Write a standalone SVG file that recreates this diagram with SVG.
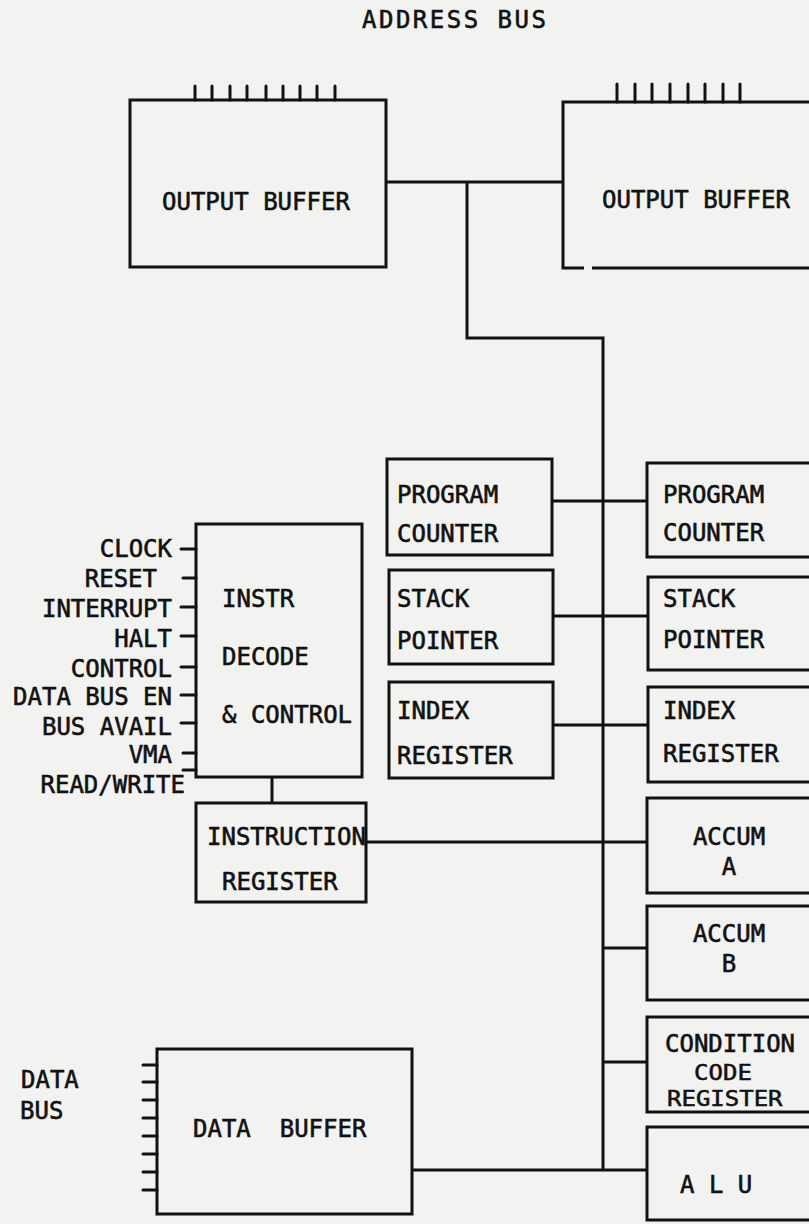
<svg xmlns="http://www.w3.org/2000/svg" width="809" height="1224" viewBox="0 0 809 1224">
<style>
.bx{fill:none;stroke:#111;stroke-width:3;stroke-linejoin:miter}
.ln{fill:none;stroke:#111;stroke-width:3}
.pin{stroke:#111;stroke-width:3;stroke-linecap:round}
text{font-family:"DejaVu Sans Mono","Liberation Mono",monospace;font-size:24px;fill:#111;stroke:#111;stroke-width:0.6;white-space:pre}
.e{text-anchor:end}
.m{text-anchor:middle}
</style>
<rect width="809" height="1224" fill="#f2f2f0"/>
<text id="title" x="362" y="28" font-size="26" letter-spacing="2.5">ADDRESS BUS</text>

<g id="connectors">
<path class="ln" d="M386,182 H563"/>
<path class="ln" d="M467,182 V338 H603 V1170"/>
<path class="ln" d="M552,501 H647"/>
<path class="ln" d="M553,616 H648"/>
<path class="ln" d="M553,725 H648"/>
<path class="ln" d="M366,842 H647"/>
<path class="ln" d="M603,948 H647"/>
<path class="ln" d="M603,1062 H647"/>
<path class="ln" d="M412,1170 H647"/>
<path class="ln" d="M272,777 V803"/>
</g>

<g id="output-buffer-left">
<rect class="bx" x="130" y="100" width="256" height="167"/>
<g class="pin"><path d="M195,86V100M212,86V100M230,86V100M247,86V100M266,86V100M283,86V100M300,86V100M317,86V100M335,86V100"/></g>
<text x="162" y="210">OUTPUT BUFFER</text>
</g>

<g id="output-buffer-right">
<path class="bx" d="M812,102 H563 V268 H584 M592,268 H812"/>
<g class="pin"><path d="M617,84V102M635,84V102M652,84V102M670,84V102M688,84V102M705,84V102M723,84V102M740,84V102"/></g>
<text x="602" y="208">OUTPUT BUFFER</text>
</g>

<g id="pc-left">
<rect class="bx" x="387" y="459" width="165" height="96"/>
<text x="397" y="503">PROGRAM</text>
<text x="397" y="542">COUNTER</text>
</g>
<g id="sp-left">
<rect class="bx" x="389" y="570" width="164" height="94"/>
<text x="397" y="607">STACK</text>
<text x="397" y="649">POINTER</text>
</g>
<g id="ix-left">
<rect class="bx" x="389" y="682" width="164" height="96"/>
<text x="397" y="719">INDEX</text>
<text x="397" y="764">REGISTER</text>
</g>

<g id="pc-right">
<path class="bx" d="M812,463 H647 V557 H812"/>
<text x="663" y="503">PROGRAM</text>
<text x="663" y="541">COUNTER</text>
</g>
<g id="sp-right">
<path class="bx" d="M812,577 H648 V670 H812"/>
<text x="663" y="607">STACK</text>
<text x="663" y="648">POINTER</text>
</g>
<g id="ix-right">
<path class="bx" d="M812,687 H648 V782 H812"/>
<text x="663" y="719">INDEX</text>
<text x="663" y="762">REGISTER</text>
</g>

<g id="decode">
<rect class="bx" x="196" y="524" width="166" height="253"/>
<g class="pin"><path d="M181,549H196M183,578H196M181,607H196M181,636H196M181,667H196M181,695H196M181,723H196M183,753H196M183,770H196"/></g>
<text x="222" y="607">INSTR</text>
<text x="222" y="665">DECODE</text>
<text x="222" y="723">&amp; CONTROL</text>
<text class="e" x="172" y="557">CLOCK</text>
<text class="e" x="157" y="587">RESET</text>
<text class="e" x="172" y="617">INTERRUPT</text>
<text class="e" x="172" y="647">HALT</text>
<text class="e" x="172" y="677">CONTROL</text>
<text class="e" x="172" y="705">DATA BUS EN</text>
<text class="e" x="172" y="735">BUS AVAIL</text>
<text class="e" x="172" y="763">VMA</text>
<text class="e" x="185" y="793">READ/WRITE</text>
</g>

<g id="instruction-register">
<rect class="bx" x="196" y="803" width="170" height="99"/>
<text x="207" y="845">INSTRUCTION</text>
<text x="222" y="890">REGISTER</text>
</g>

<g id="accum-a">
<path class="bx" d="M812,798 H647 V893 H812"/>
<text class="m" x="729" y="845">ACCUM</text>
<text class="m" x="729" y="875">A</text>
</g>
<g id="accum-b">
<path class="bx" d="M812,906 H647 V1000 H812"/>
<text class="m" x="729" y="942">ACCUM</text>
<text class="m" x="729" y="972">B</text>
</g>
<g id="ccr">
<path class="bx" d="M812,1017 H647 V1112 H812"/>
<text x="665" y="1052">CONDITION</text>
<text class="m" transform="translate(723,1080) scale(1,0.88)">CODE</text>
<text transform="translate(667,1106) scale(1,0.88)">REGISTER</text>
</g>
<g id="alu">
<path class="bx" d="M812,1127 H647 V1220 H812"/>
<text x="680" y="1193">A L U</text>
</g>

<g id="data-buffer">
<rect class="bx" x="157" y="1049" width="255" height="165"/>
<g class="pin"><path d="M143,1065H157M143,1082H157M143,1100H157M143,1118H157M143,1136H157M143,1154H157M143,1172H157M143,1190H157"/></g>
<text x="193" y="1137">DATA  BUFFER</text>
<text x="21" y="1088">DATA</text>
<text x="20" y="1119">BUS</text>
</g>
</svg>
